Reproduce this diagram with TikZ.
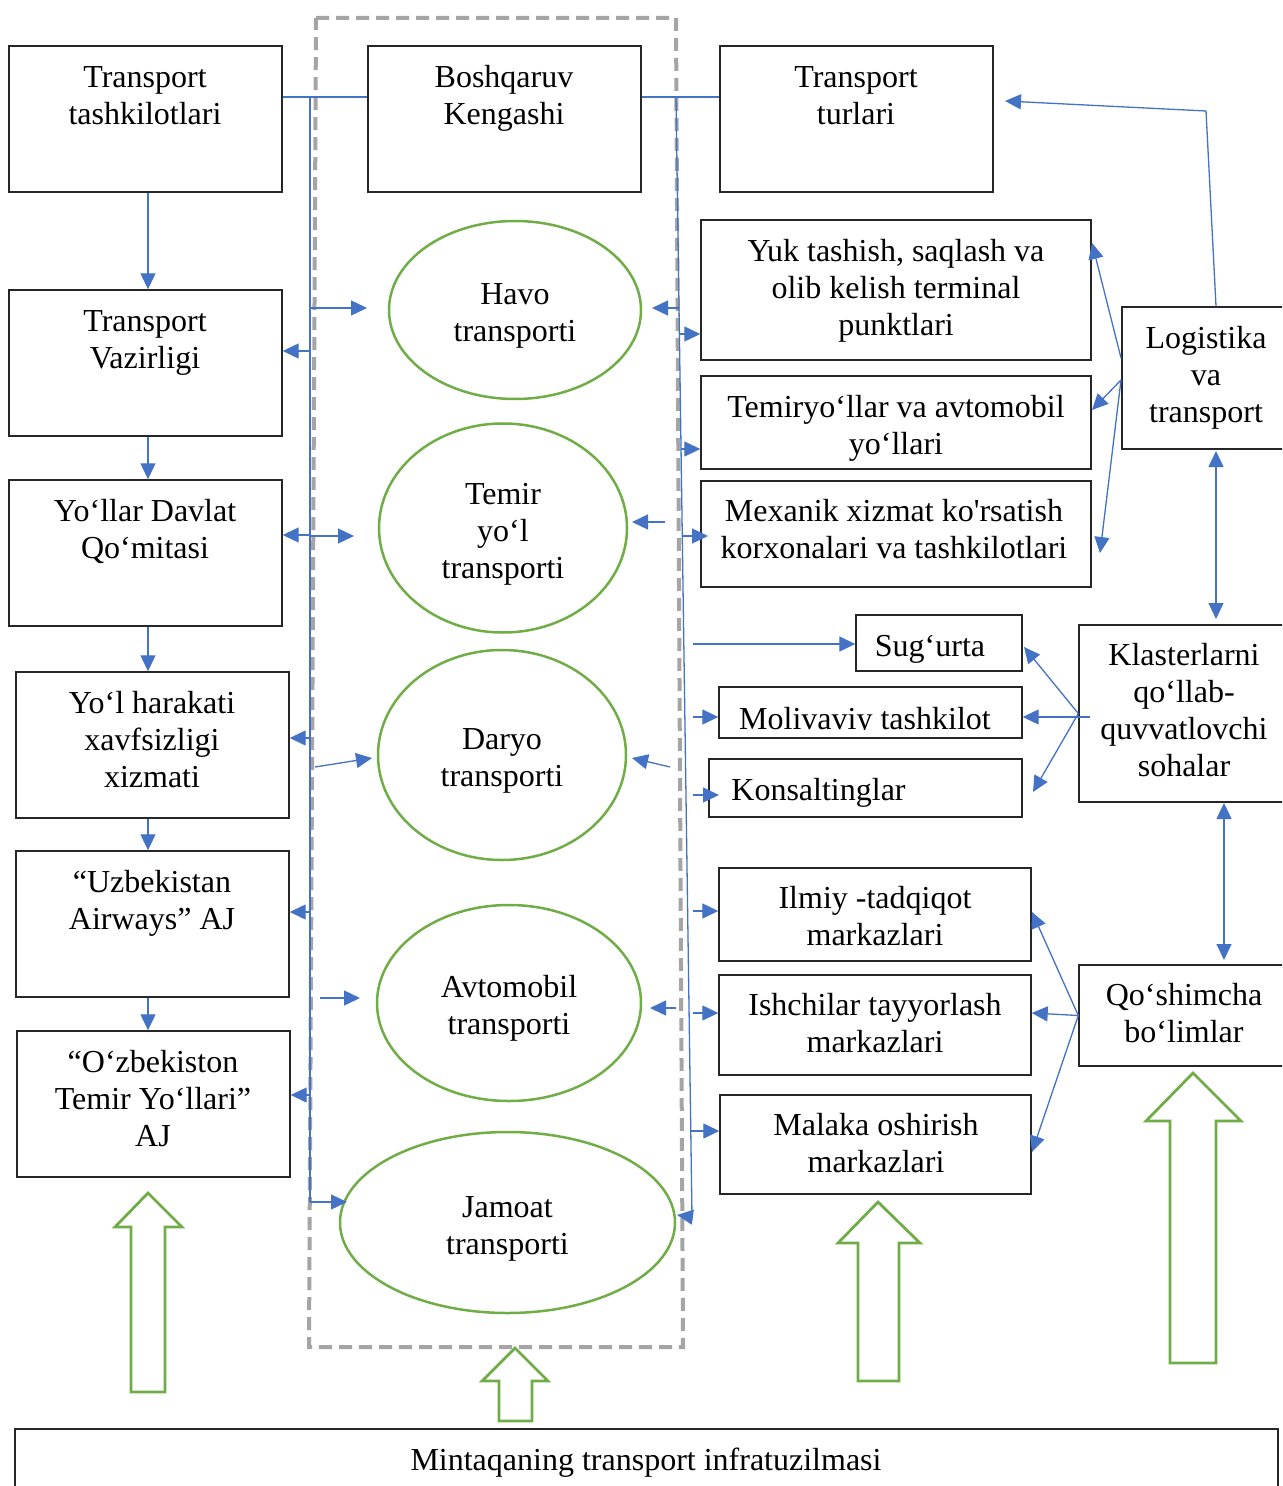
\documentclass[tikz,border=0pt]{standalone}
\usepackage{fontspec}
\setmainfont{Liberation Serif}[Ligatures=TeXOff]
\usetikzlibrary{arrows.meta,shapes.geometric,calc}
\definecolor{conblue}{HTML}{4472C4}
\definecolor{ovgreen}{HTML}{70AD47}
\definecolor{framegray}{HTML}{A5A5A5}
\newcommand\mainfs{\fontsize{16}{18.5}\selectfont}
% rectangle node spanning (x1,y1)-(x2,y2), one unit = one pixel
\newcommand\rectnode[5]{%
  \node[box, minimum width={(#4-#2)*0.5pt}, minimum height={(#5-#3)*0.5pt}]
    (#1) at ({(#2+#4)/2},{(#3+#5)/2}) {};}
\begin{document}
\begin{tikzpicture}[x=0.5pt,y=-0.5pt,
  box/.style={draw=black!85, line width=0.7pt, inner sep=0pt, rectangle, fill=white},
  oval/.style={draw=ovgreen, line width=1.25pt, ellipse, inner sep=0pt, align=center, font=\mainfs},
  lbl/.style={align=center, inner sep=0pt, font=\mainfs},
  tip/.style={-{Triangle[length=8pt,width=7.5pt]}},
  conn/.style={draw=conblue, line width=0.65pt, tip},
  twoway/.style={draw=conblue, line width=0.65pt, {Triangle[length=8pt,width=7.5pt]}-{Triangle[length=8pt,width=7.5pt]}},
  plain/.style={draw=conblue, line width=0.65pt},
  bigarrow/.style={draw=ovgreen, line width=1.4pt, fill=white, line join=miter},
  frame/.style={draw=framegray, line width=2pt, dash pattern=on 6.5pt off 3.5pt}
]
\useasboundingbox (0,0) rectangle (1282,1486);
\clip (0,0) rectangle (1282,1486);
\fill[white] (0,0) rectangle (1282,1486);

% dashed frame around the management column
\draw[frame] (316,18) -- (676,18) -- (683,1347) -- (309,1347) -- cycle;

% boxes
\rectnode{tt}{9}{46}{282}{192}
\rectnode{tv}{9}{290}{282}{436}
\rectnode{ydq}{9}{480}{282}{626}
\rectnode{yhx}{16}{672}{289}{818}
\rectnode{ua}{16}{851}{289}{997}
\rectnode{oty}{17}{1031}{290}{1177}
\rectnode{bk}{368}{46}{641}{192}
\rectnode{ttu}{720}{46}{993}{192}
\rectnode{yuk}{701}{220}{1091}{360}
\rectnode{tmy}{701}{376}{1091}{469}
\rectnode{mex}{701}{481}{1091}{587}
\rectnode{log}{1122}{307}{1292}{449}
\rectnode{sug}{856}{615}{1022}{671}
\rectnode{mol}{719}{687}{1022}{738}
\rectnode{kon}{709}{759}{1022}{817}
\rectnode{kla}{1079}{625}{1292}{802}
\rectnode{ilm}{719}{868}{1031}{961}
\rectnode{ish}{719}{975}{1031}{1075}
\rectnode{mal}{720}{1095}{1031}{1194}
\rectnode{qos}{1079}{965}{1292}{1066}
\rectnode{mint}{15}{1429}{1278}{1495}

% box texts
\node[lbl] at (145,95.5) {Transport\\tashkilotlari};
\node[lbl] at (504,98.5) {Boshqaruv\\Kengashi};
\node[lbl] at (856,95.5) {Transport\\turlari};
\node[lbl] at (145,343) {Transport\\Vazirligi};
\node[lbl] at (145,531.5) {Yo‘llar Davlat\\Qo‘mitasi};
\node[lbl] at (152,739.5) {Yo‘l harakati\\xavfsizligi\\xizmati};
\node[lbl] at (152,903) {“Uzbekistan\\Airways” AJ};
\node[lbl] at (153,1098.5) {“O‘zbekiston\\Temir Yo‘llari”\\AJ};
\node[lbl] at (896,290.5) {Yuk tashish, saqlash va\\olib kelish terminal\\punktlari};
\node[lbl] at (896,428) {Temiryo‘llar va avtomobil\\yo‘llari};
\node[lbl] at (894,529.5) {Mexanik xizmat ko'rsatish\\korxonalari va tashkilotlari};
\node[lbl] at (1206,378) {Logistika\\va\\transport};
\node[lbl] at (930,649) {Sug‘urta};
\begin{scope}
  \clip (719,687) rectangle (1022,729);
  \node[lbl] at (865,722) {Molivaviy tashkilot};
\end{scope}
\node[lbl, anchor=west] at (731,793) {Konsaltinglar};
\node[lbl] at (1184,710.5) {Klasterlarni\\qo‘llab-\\quvvatlovchi\\sohalar};
\node[lbl] at (875,916.5) {Ilmiy -tadqiqot\\markazlari};
\node[lbl] at (875,1023.5) {Ishchilar tayyorlash\\markazlari};
\node[lbl] at (876,1143.5) {Malaka oshirish\\markazlari};
\node[lbl] at (1184,1013.5) {Qo‘shimcha\\bo‘limlar};
\node[lbl] at (646,1463) {Mintaqaning transport infratuzilmasi};

% transport modes
\node[oval, minimum width=126pt, minimum height=89pt] (havo) at (515,310) {};
\node[oval, minimum width=124pt, minimum height=104.5pt] (temir) at (503,528) {};
\node[oval, minimum width=124pt, minimum height=105pt] (daryo) at (502,755) {};
\node[oval, minimum width=132pt, minimum height=98pt] (avto) at (509,1003) {};
\node[oval, minimum width=167.5pt, minimum height=90.5pt] (jamoat) at (507.5,1222.5) {};
\node[lbl] at ([yshift=-3pt]havo.center) {Havo\\transporti};
\node[lbl] at ([yshift=-3pt]temir.center) {Temir\\yo‘l\\transporti};
\node[lbl] at ([yshift=-3pt]daryo.center) {Daryo\\transporti};
\node[lbl] at ([yshift=-2.5pt]avto.center) {Avtomobil\\transporti};
\node[lbl] at ([yshift=-3pt]jamoat.center) {Jamoat\\transporti};

% buses from the management council
\coordinate (lbusT) at (310,97);
\coordinate (lbusB) at (310,1202);
\coordinate (rbusT) at (676,97);
\coordinate (rbusB) at (692,1217);
\draw[plain] (tt.east |- lbusT) -- (bk.west |- lbusT);
\draw[plain] (bk.east |- rbusT) -- (ttu.west |- rbusT);
\draw[plain] (lbusT) -- (lbusB);
\draw[plain] (rbusT) -- (rbusB);

% left bus branches
\draw[conn] (310,308) -- (367,308);
\draw[conn] (310,351) -- (tv.east |- 0,351);
\draw[conn] (310,535) -- (ydq.east |- 0,535);
\draw[conn] (310,536) -- (354,536);
\draw[conn] (310,738) -- (yhx.east |- 0,738);
\draw[conn] (315,767) -- (372,758);
\draw[conn] (310,912) -- (ua.east |- 0,912);
\draw[conn] (320,998) -- (360,998);
\draw[conn] (310,1095) -- (oty.east |- 0,1095);
\draw[conn] (lbusB) -- (347,1202);

% right bus branches
\draw[conn] (679,308) -- (652,308);
\draw[conn] (680,334) -- (yuk.west |- 0,334);
\draw[conn] (681,449) -- (tmy.west |- 0,449);
\draw[conn] (665,522) -- (632,522);
\draw[conn] (682,536) -- (708,536);
\draw[conn] (693,644) -- (sug.west |- 0,644);
\draw[conn] (693,717) -- (mol.west |- 0,717);
\draw[conn] (670,767) -- (632,758);
\draw[conn] (693,795) -- (719,795);
\draw[conn] (693,911) -- (ilm.west |- 0,911);
\draw[conn] (676,1008) -- (650,1008);
\draw[conn] (693,1013) -- (ish.west |- 0,1013);
\draw[conn] (691,1131) -- (mal.west |- 0,1131);
\draw[conn] (rbusB) -- (677,1215);

% hierarchy of the left column
\draw[conn] (tt.south -| 148,0) -- (tv.north -| 148,0);
\draw[conn] (tv.south -| 148,0) -- (ydq.north -| 148,0);
\draw[conn] (ydq.south -| 148,0) -- (yhx.north -| 148,0);
\draw[conn] (yhx.south -| 148,0) -- (ua.north -| 148,0);
\draw[conn] (ua.south -| 148,0) -- (oty.north -| 148,0);

% logistics links
\draw[conn] (log.north -| 1216,0) -- (1206,111) -- (1005,101);
\draw[conn] (1121,358) -- (1092,243);
\draw[conn] (1121,380) -- (1092,410);
\draw[conn] (1121,380) -- (1100,553);
\draw[twoway] (1216,451) -- (1216,619);
\draw[twoway] (1224,803) -- (1224,960);

% supporting sectors
\draw[conn] (kla.west) -- (1024,647);
\draw[conn] (1090,717) -- (mol.east |- 0,717);
\draw[conn] (kla.west) -- (1033,792);

% additional units
\draw[conn] (qos.west) -- (1032,912);
\draw[conn] (qos.west) -- (ish.east |- 0,1013);
\draw[conn] (qos.west) -- (1032,1152);

% infrastructure arrows
\draw[bigarrow] (148,1193) -- (182,1227) -- (165,1227) -- (165,1392) -- (131,1392) -- (131,1227) -- (115,1227) -- cycle;
\draw[bigarrow] (515,1348) -- (548,1381) -- (532,1381) -- (532,1421) -- (499,1421) -- (499,1381) -- (482,1381) -- cycle;
\draw[bigarrow] (878,1202) -- (920,1243) -- (899,1243) -- (899,1381) -- (858,1381) -- (858,1243) -- (838,1243) -- cycle;
\draw[bigarrow] (1193,1073) -- (1241,1121) -- (1216,1121) -- (1216,1363) -- (1170,1363) -- (1170,1121) -- (1146,1121) -- cycle;
\end{tikzpicture}
\end{document}
